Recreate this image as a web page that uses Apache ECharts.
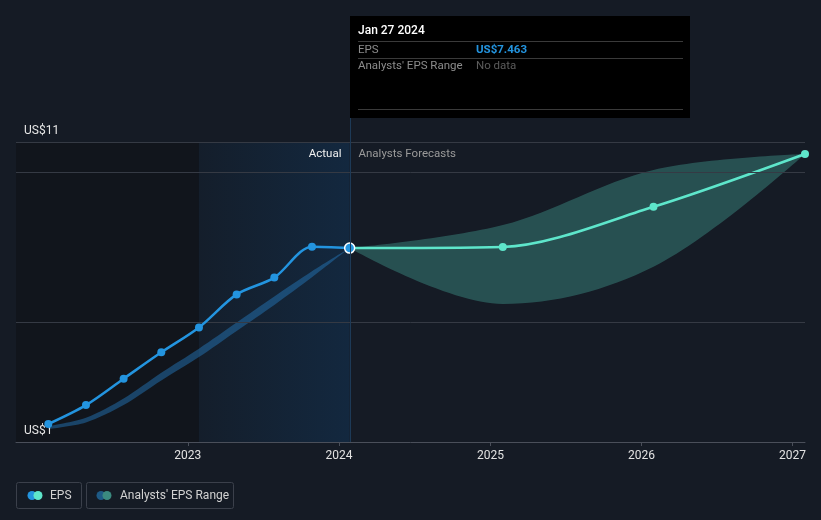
<!DOCTYPE html>
<html><head><meta charset="utf-8">
<script src="https://cdn.jsdelivr.net/npm/echarts@6/dist/echarts.min.js"></script>
<style>html,body{margin:0;padding:0;background:#151b25;} #c{width:821px;height:520px;}</style>
</head><body><div id="c"></div>
<script>
// ---- data ----
const actualDates = ['2022-01-29','2022-04-30','2022-07-30','2022-10-29','2023-01-28','2023-04-29','2023-07-29','2023-10-28','2024-01-27'];
const actualEPS = [1.6, 2.23, 3.11, 3.99, 4.82, 5.92, 6.48, 7.51, 7.463];
const pastRangeLow = [1.43, 1.65, 2.23, 3.05, 3.83, 4.70, 5.57, 6.49, 7.463];
const pastRangeHigh = [1.53, 1.81, 2.45, 3.31, 4.11, 4.98, 5.85, 6.69, 7.463];
const forecastDates = ['2024-01-27','2025-01-31','2026-01-30','2027-01-31'];
const forecastEPS = [7.463, 7.5, 8.84, 10.6];
const forecastLow = [7.463, 5.6, 6.84, 10.6];
const forecastHigh = [7.463, 8.23, 10.07, 10.6];
const yTickValues = [1, 11];
const yGridValues = [5, 10, 11];
const xTickYears = [2023, 2024, 2025, 2026, 2027];
const xMin = '2021-11-12';
const xMax = '2027-01-31';
const tipDate = 'Jan 27 2024';
const tipEPS = 'US$7.463';

const FONT = 'Roboto, "Noto Sans", sans-serif';
const ts = d => Date.parse(d + 'T00:00:00Z');
const yearTs = xTickYears.map(y => ts(y + '-01-01'));

// rows are [value, time]; encode maps them to y / x (value first so stacking acts on it)
const rows = (ds, vs) => ds.map((d, i) => [vs[i], ts(d)]);
const diff = (hi, lo) => hi.map((v, i) => +(v - lo[i]).toFixed(3));
const ENC = {x: 1, y: 0};

const chart = echarts.init(document.getElementById('c'), null, {renderer: 'canvas'});
const option = {
  backgroundColor: '#151b25',
  animation: false,
  textStyle: {fontFamily: FONT},
  grid: {left: 16, right: 16, top: 142, bottom: 78},
  xAxis: {
    type: 'value', min: ts(xMin), max: ts(xMax), z: 5,
    axisLine: {lineStyle: {color: '#4a4f5a', width: 1}},
    axisTick: {show: true, customValues: yearTs, length: 4, lineStyle: {color: '#4a4f5a'}},
    axisLabel: {customValues: yearTs, color: '#e2e2e2', fontSize: 12, margin: 8, fontFamily: FONT,
      formatter: v => String(new Date(v + 43200000).getUTCFullYear())},
    splitLine: {show: false}
  },
  yAxis: {
    type: 'value', min: 1, max: 11, z: 5,
    axisLine: {show: false}, axisTick: {show: false}, splitLine: {show: false},
    axisLabel: {customValues: yTickValues, inside: true, margin: 8, color: '#e6e6e6', fontSize: 12,
      fontFamily: FONT, verticalAlign: 'bottom', padding: [0, 0, 5, 0], formatter: v => 'US$' + v}
  },
  series: [
    {
      name: 'pastLow', type: 'line', stack: 'past', smooth: 0.3, symbol: 'none', z: 1, encode: ENC,
      lineStyle: {opacity: 0}, data: rows(actualDates, pastRangeLow), silent: true,
      markArea: {silent: true, data: [
        [{xAxis: ts(xMin), itemStyle: {color: '#11151c'}}, {xAxis: ts(actualDates[4])}],
        [{xAxis: ts(actualDates[4]), itemStyle: {color: new echarts.graphic.LinearGradient(0, 0, 1, 0, [
          {offset: 0, color: '#141e2b'}, {offset: 1, color: '#13283f'}])}}, {xAxis: ts(actualDates[8])}]
      ]},
      markLine: {silent: true, symbol: 'none', label: {show: false},
        lineStyle: {color: '#353a44', width: 1, type: 'solid'},
        data: yGridValues.map(v => ({yAxis: v}))}
    },
    {
      name: 'pastRange', type: 'line', stack: 'past', smooth: 0.3, symbol: 'none', z: 2, encode: ENC,
      lineStyle: {opacity: 0}, areaStyle: {color: 'rgba(35,115,180,0.5)', opacity: 1},
      data: rows(actualDates, diff(pastRangeHigh, pastRangeLow))
    },
    {
      name: 'fcLow', type: 'line', stack: 'fc', smooth: 0.35, symbol: 'none', z: 2, encode: ENC,
      lineStyle: {opacity: 0}, data: rows(forecastDates, forecastLow)
    },
    {
      name: 'fcRange', type: 'line', stack: 'fc', smooth: 0.35, symbol: 'none', z: 2, encode: ENC,
      lineStyle: {opacity: 0}, areaStyle: {color: 'rgba(84,205,185,0.30)', opacity: 1},
      data: rows(forecastDates, diff(forecastHigh, forecastLow))
    },
    {
      name: 'forecast', type: 'line', smooth: 0.3, z: 4, symbol: 'circle', symbolSize: 8, encode: ENC,
      lineStyle: {color: '#5ee6cb', width: 2.5}, itemStyle: {color: '#5ee6cb'},
      data: forecastDates.map((d, i) => i === 0 ? {value: [forecastEPS[i], ts(d)], symbol: 'none'} : [forecastEPS[i], ts(d)])
    },
    {
      name: 'EPS', type: 'line', smooth: 0.3, z: 5, symbol: 'circle', symbolSize: 8, encode: ENC,
      lineStyle: {color: '#2394df', width: 2.5}, itemStyle: {color: '#2394df'},
      data: actualDates.map((d, i) => i === actualDates.length - 1
        ? {value: [actualEPS[i], ts(d)], symbolSize: 10, itemStyle: {color: '#2394df', borderColor: '#ffffff', borderWidth: 1.5}}
        : [actualEPS[i], ts(d)])
    }
  ]
};
chart.setOption(option);

const px = chart.convertToPixel({xAxisIndex: 0, yAxisIndex: 0}, [ts(actualDates[8]), 11]);
const bottomPx = chart.convertToPixel({xAxisIndex: 0, yAxisIndex: 0}, [ts(actualDates[8]), 1]);
const lx = Math.round(px[0]) + 0.5;
const tipLeft = Math.round(px[0]);
const F = '11.5px ' + FONT;
const lab = (x, y, text, fill, font, align) => ({type: 'text', x, y, z: 21,
  style: {text, fill, font: font || F, verticalAlign: 'middle', align: align || 'left'}});
const hline = (x1, x2, y, color) => ({type: 'line', z: 21, shape: {x1, y1: y, x2, y2: y}, style: {stroke: color, lineWidth: 1}});

chart.setOption({graphic: [
  {type: 'line', z: 10, shape: {x1: lx, y1: 117, x2: lx, y2: bottomPx[1]}, style: {stroke: '#1d3a57', lineWidth: 1}},
  {type: 'rect', z: 20, shape: {x: tipLeft, y: 16, width: 340, height: 102}, style: {fill: '#000000'}},
  lab(tipLeft + 8, 31, tipDate, '#ffffff', '500 12px ' + FONT),
  hline(tipLeft + 8, tipLeft + 333, 41.5, '#3a3a3a'),
  lab(tipLeft + 8, 50, 'EPS', '#8c8c8c'),
  lab(tipLeft + 126, 50, tipEPS, '#2394df', 'bold 11.5px ' + FONT),
  hline(tipLeft + 8, tipLeft + 333, 58.5, '#3a3a3a'),
  lab(tipLeft + 8, 66, "Analysts' EPS Range", '#8c8c8c'),
  lab(tipLeft + 126, 66, 'No data', '#5c5c5c'),
  hline(tipLeft + 8, tipLeft + 333, 109.5, '#3a3a3a'),
  lab(lx - 9, 154, 'Actual', '#f0f0f0', null, 'right'),
  lab(lx + 8, 154, 'Analysts Forecasts', '#9a9a9a'),
  // legend
  {type: 'rect', shape: {x: 16.5, y: 482.5, width: 65, height: 26, r: 2}, style: {fill: 'none', stroke: '#3b404b', lineWidth: 1}},
  {type: 'circle', shape: {cx: 32, cy: 495.5, r: 4.5}, style: {fill: '#2394df'}},
  {type: 'circle', shape: {cx: 38, cy: 495.5, r: 4.5}, style: {fill: '#5ee6cb'}},
  lab(50, 495.5, 'EPS', '#d2d2d2', '12px ' + FONT),
  {type: 'rect', shape: {x: 86.5, y: 482.5, width: 147, height: 26, r: 2}, style: {fill: 'none', stroke: '#3b404b', lineWidth: 1}},
  {type: 'circle', shape: {cx: 101, cy: 495.5, r: 4.5}, style: {fill: '#1e5a86'}},
  {type: 'circle', shape: {cx: 107, cy: 495.5, r: 4.5}, style: {fill: '#3b8a80'}},
  lab(120, 495.5, "Analysts' EPS Range", '#d2d2d2', '12px ' + FONT)
]});
</script></body></html>
